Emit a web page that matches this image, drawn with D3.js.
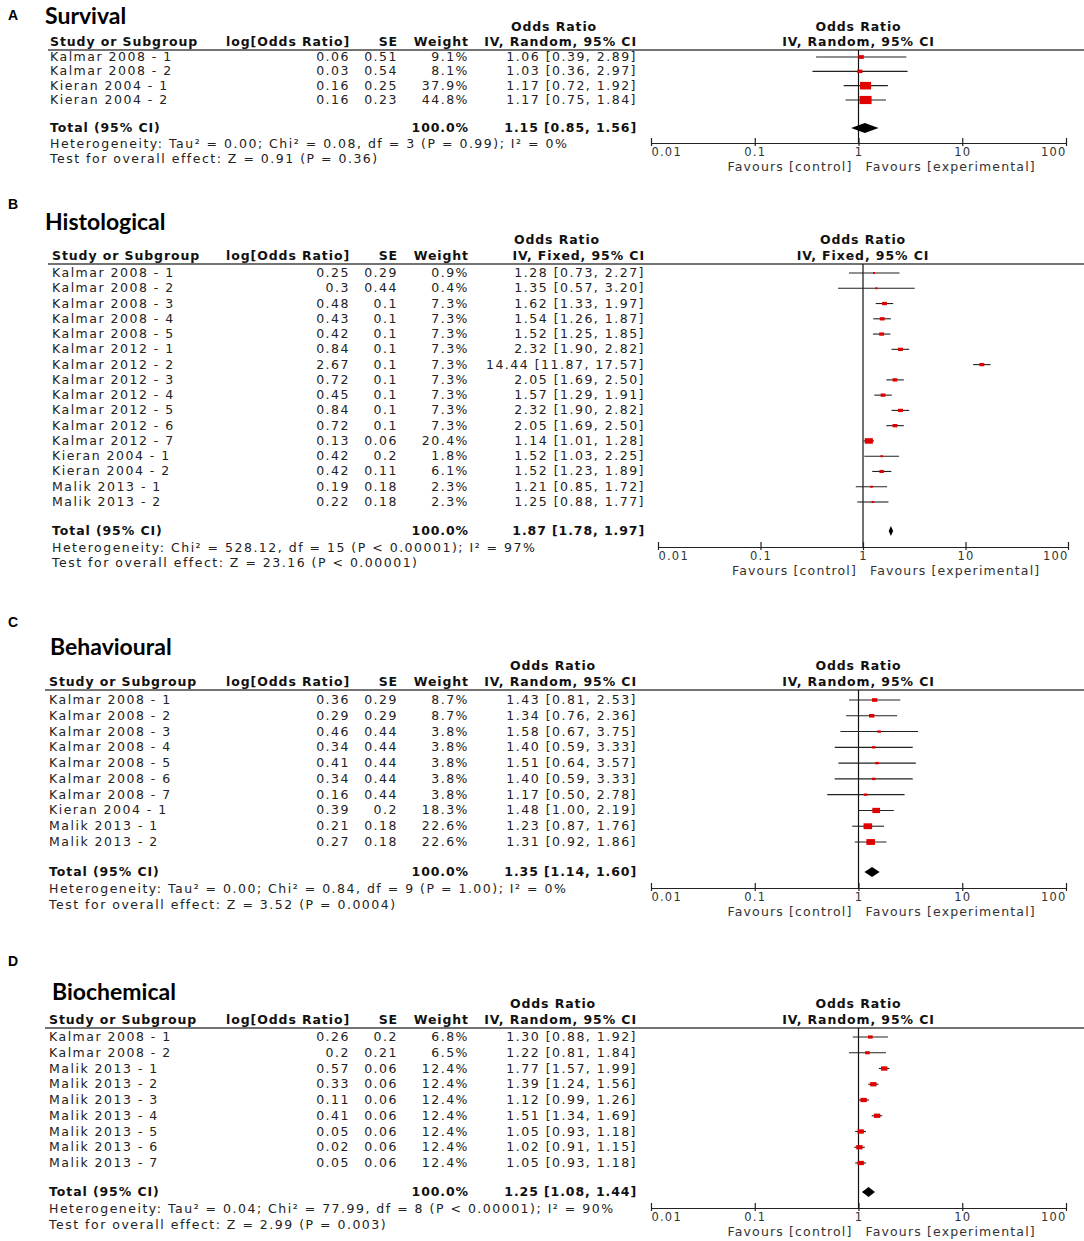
<!DOCTYPE html>
<meta charset="utf-8">
<script src="https://d3js.org/d3.v7.min.js"></script>
<style>
  body { margin: 0; background: #fff; }
  text { font-family: "DejaVu Sans", Verdana, sans-serif; font-size: 12.5px; fill: #222; letter-spacing: 1.5px; }
  .b { font-weight: bold; fill: #111; letter-spacing: 0.9px; }
  .tk { font-size: 11.5px; letter-spacing: 1.2px; fill: #333; }
  .fav { letter-spacing: 1.15px; fill: #333; }
  .title { font-family: Lato, sans-serif; font-weight: bold; font-size: 23px; letter-spacing: 0; fill: #000; }
  .letter { font-family: "Liberation Sans", Arial, sans-serif; font-weight: bold; font-size: 14px; letter-spacing: 0; fill: #000; }
</style>
<div id="chart"></div>
<script>

// ---- data ----
var tickValues = [0.01, 0.1, 1, 10, 100];
var tickLabels = ["0.01", "0.1", "1", "10", "100"];

// A survival
var survStudies = ["Kalmar 2008 - 1", "Kalmar 2008 - 2", "Kieran 2004 - 1", "Kieran 2004 - 2"];
var survLogOR = [0.06, 0.03, 0.16, 0.16];
var survSE = [0.51, 0.54, 0.25, 0.23];
var survWeight = [9.1, 8.1, 37.9, 44.8];
var survOR = [1.06, 1.03, 1.17, 1.17];
var survLo = [0.39, 0.36, 0.72, 0.75];
var survHi = [2.89, 2.97, 1.92, 1.84];
var survTotal = [1.15, 0.85, 1.56];

// B histological
var histStudies = ["Kalmar 2008 - 1", "Kalmar 2008 - 2", "Kalmar 2008 - 3", "Kalmar 2008 - 4", "Kalmar 2008 - 5",
  "Kalmar 2012 - 1", "Kalmar 2012 - 2", "Kalmar 2012 - 3", "Kalmar 2012 - 4", "Kalmar 2012 - 5", "Kalmar 2012 - 6",
  "Kalmar 2012 - 7", "Kieran 2004 - 1", "Kieran 2004 - 2", "Malik 2013 - 1", "Malik 2013 - 2"];
var histLogOR = [0.25, 0.3, 0.48, 0.43, 0.42, 0.84, 2.67, 0.72, 0.45, 0.84, 0.72, 0.13, 0.42, 0.42, 0.19, 0.22];
var histSE = [0.29, 0.44, 0.1, 0.1, 0.1, 0.1, 0.1, 0.1, 0.1, 0.1, 0.1, 0.06, 0.2, 0.11, 0.18, 0.18];
var histWeight = [0.9, 0.4, 7.3, 7.3, 7.3, 7.3, 7.3, 7.3, 7.3, 7.3, 7.3, 20.4, 1.8, 6.1, 2.3, 2.3];
var histOR = [1.28, 1.35, 1.62, 1.54, 1.52, 2.32, 14.44, 2.05, 1.57, 2.32, 2.05, 1.14, 1.52, 1.52, 1.21, 1.25];
var histLo = [0.73, 0.57, 1.33, 1.26, 1.25, 1.90, 11.87, 1.69, 1.29, 1.90, 1.69, 1.01, 1.03, 1.23, 0.85, 0.88];
var histHi = [2.27, 3.20, 1.97, 1.87, 1.85, 2.82, 17.57, 2.50, 1.91, 2.82, 2.50, 1.28, 2.25, 1.89, 1.72, 1.77];
var histTotal = [1.87, 1.78, 1.97];

// C behavioural
var behStudies = ["Kalmar 2008 - 1", "Kalmar 2008 - 2", "Kalmar 2008 - 3", "Kalmar 2008 - 4", "Kalmar 2008 - 5",
  "Kalmar 2008 - 6", "Kalmar 2008 - 7", "Kieran 2004 - 1", "Malik 2013 - 1", "Malik 2013 - 2"];
var behLogOR = [0.36, 0.29, 0.46, 0.34, 0.41, 0.34, 0.16, 0.39, 0.21, 0.27];
var behSE = [0.29, 0.29, 0.44, 0.44, 0.44, 0.44, 0.44, 0.2, 0.18, 0.18];
var behWeight = [8.7, 8.7, 3.8, 3.8, 3.8, 3.8, 3.8, 18.3, 22.6, 22.6];
var behOR = [1.43, 1.34, 1.58, 1.40, 1.51, 1.40, 1.17, 1.48, 1.23, 1.31];
var behLo = [0.81, 0.76, 0.67, 0.59, 0.64, 0.59, 0.50, 1.00, 0.87, 0.92];
var behHi = [2.53, 2.36, 3.75, 3.33, 3.57, 3.33, 2.78, 2.19, 1.76, 1.86];
var behTotal = [1.35, 1.14, 1.60];

// D biochemical
var bioStudies = ["Kalmar 2008 - 1", "Kalmar 2008 - 2", "Malik 2013 - 1", "Malik 2013 - 2", "Malik 2013 - 3",
  "Malik 2013 - 4", "Malik 2013 - 5", "Malik 2013 - 6", "Malik 2013 - 7"];
var bioLogOR = [0.26, 0.2, 0.57, 0.33, 0.11, 0.41, 0.05, 0.02, 0.05];
var bioSE = [0.2, 0.21, 0.06, 0.06, 0.06, 0.06, 0.06, 0.06, 0.06];
var bioWeight = [6.8, 6.5, 12.4, 12.4, 12.4, 12.4, 12.4, 12.4, 12.4];
var bioOR = [1.30, 1.22, 1.77, 1.39, 1.12, 1.51, 1.05, 1.02, 1.05];
var bioLo = [0.88, 0.81, 1.57, 1.24, 0.99, 1.34, 0.93, 0.91, 0.93];
var bioHi = [1.92, 1.84, 1.99, 1.56, 1.26, 1.69, 1.18, 1.15, 1.18];
var bioTotal = [1.25, 1.08, 1.44];

// ---- panels (data + layout) ----
var panels = [
  { letter: "A", title: "Survival", method: "IV, Random, 95% CI",
    studies: survStudies, logOR: survLogOR, se: survSE, weight: survWeight, or: survOR, lo: survLo, hi: survHi, total: survTotal,
    het: "Heterogeneity: Tau\u00b2 = 0.00; Chi\u00b2 = 0.08, df = 3 (P = 0.99); I\u00b2 = 0%",
    test: "Test for overall effect: Z = 0.91 (P = 0.36)",
    letterY: 20, titleX: 45, titleY: 24, h1: 27, h2: 42, lineY: 50, lineX: 48, row0: 57, row1: 100,
    totalY: 128, hetY: 144, testY: 159, axisY: 143, x0: 651, x1: 1066, nameX: 50, ciR: 637, orX: 554 },
  { letter: "B", title: "Histological", method: "IV, Fixed, 95% CI",
    studies: histStudies, logOR: histLogOR, se: histSE, weight: histWeight, or: histOR, lo: histLo, hi: histHi, total: histTotal,
    het: "Heterogeneity: Chi\u00b2 = 528.12, df = 15 (P < 0.00001); I\u00b2 = 97%",
    test: "Test for overall effect: Z = 23.16 (P < 0.00001)",
    letterY: 209, titleX: 45, titleY: 230, h1: 240, h2: 256, lineY: 264, lineX: 48, row0: 273, row1: 502,
    totalY: 531, hetY: 548, testY: 563, axisY: 547, x0: 658, x1: 1068, nameX: 52, ciR: 645, orX: 557 },
  { letter: "C", title: "Behavioural", method: "IV, Random, 95% CI",
    studies: behStudies, logOR: behLogOR, se: behSE, weight: behWeight, or: behOR, lo: behLo, hi: behHi, total: behTotal,
    het: "Heterogeneity: Tau\u00b2 = 0.00; Chi\u00b2 = 0.84, df = 9 (P = 1.00); I\u00b2 = 0%",
    test: "Test for overall effect: Z = 3.52 (P = 0.0004)",
    letterY: 627, titleX: 50, titleY: 655, h1: 666, h2: 682, lineY: 690, lineX: 45, row0: 700, row1: 842,
    totalY: 872, hetY: 889, testY: 905, axisY: 888, x0: 651, x1: 1066, nameX: 49, ciR: 637, orX: 553 },
  { letter: "D", title: "Biochemical", method: "IV, Random, 95% CI",
    studies: bioStudies, logOR: bioLogOR, se: bioSE, weight: bioWeight, or: bioOR, lo: bioLo, hi: bioHi, total: bioTotal,
    het: "Heterogeneity: Tau\u00b2 = 0.04; Chi\u00b2 = 77.99, df = 8 (P < 0.00001); I\u00b2 = 90%",
    test: "Test for overall effect: Z = 2.99 (P = 0.003)",
    letterY: 966, titleX: 52, titleY: 1000, h1: 1004, h2: 1020, lineY: 1028, lineX: 45, row0: 1037, row1: 1163,
    totalY: 1192, hetY: 1209, testY: 1225, axisY: 1208, x0: 651, x1: 1066, nameX: 49, ciR: 637, orX: 553 }
];

var svg = d3.select("#chart").append("svg")
    .attr("width", 1084)
    .attr("height", 1241);

var f2 = d3.format(".2f"), f1 = d3.format(".1f");
var size = d3.scaleSqrt().domain([0, 100]).range([0, 18]);

// column right edges
var colLog = 350, colSE = 398, colW = 469;

function ciText(o, l, h) { return f2(o) + " [" + f2(l) + ", " + f2(h) + "]"; }

function drawPanel(p) {
  var g = svg.append("g");
  var base = 4; // baseline offset from row centre

  g.append("text").attr("class", "letter").attr("x", 8).attr("y", p.letterY).text(p.letter);
  g.append("text").attr("class", "title").attr("x", p.titleX).attr("y", p.titleY).text(p.title);

  // table headers
  g.append("text").attr("class", "b").attr("x", p.nameX).attr("y", p.h2 + base).text("Study or Subgroup");
  g.append("text").attr("class", "b").attr("x", colLog).attr("y", p.h2 + base).attr("text-anchor", "end").text("log[Odds Ratio]");
  g.append("text").attr("class", "b").attr("x", colSE).attr("y", p.h2 + base).attr("text-anchor", "end").text("SE");
  g.append("text").attr("class", "b").attr("x", colW).attr("y", p.h2 + base).attr("text-anchor", "end").text("Weight");
  g.append("text").attr("class", "b").attr("x", p.ciR).attr("y", p.h2 + base).attr("text-anchor", "end").text(p.method);
  g.append("text").attr("class", "b").attr("x", p.orX).attr("y", p.h1 + base).attr("text-anchor", "middle").text("Odds Ratio");

  var x = d3.scaleLog().domain([0.01, 100]).range([p.x0, p.x1]);
  var one = x(1);
  g.append("text").attr("class", "b").attr("x", one).attr("y", p.h1 + base).attr("text-anchor", "middle").text("Odds Ratio");
  g.append("text").attr("class", "b").attr("x", one).attr("y", p.h2 + base).attr("text-anchor", "middle").text(p.method);

  g.append("line")
      .attr("x1", p.lineX).attr("x2", 1084)
      .attr("y1", p.lineY).attr("y2", p.lineY)
      .attr("stroke", "#444").attr("stroke-width", 1.4);

  var idx = d3.range(p.studies.length);
  var y = d3.scalePoint().domain(idx).range([p.row0, p.row1]);

  // table rows
  var rows = g.selectAll(".row").data(idx).enter().append("g").attr("class", "row");
  rows.append("text").attr("x", p.nameX).attr("y", function(i) { return y(i) + base; })
      .text(function(i) { return p.studies[i]; });
  rows.append("text").attr("x", colLog).attr("y", function(i) { return y(i) + base; }).attr("text-anchor", "end")
      .text(function(i) { return String(p.logOR[i]); });
  rows.append("text").attr("x", colSE).attr("y", function(i) { return y(i) + base; }).attr("text-anchor", "end")
      .text(function(i) { return String(p.se[i]); });
  rows.append("text").attr("x", colW).attr("y", function(i) { return y(i) + base; }).attr("text-anchor", "end")
      .text(function(i) { return f1(p.weight[i]) + "%"; });
  rows.append("text").attr("x", p.ciR).attr("y", function(i) { return y(i) + base; }).attr("text-anchor", "end")
      .text(function(i) { return ciText(p.or[i], p.lo[i], p.hi[i]); });

  // totals
  g.append("text").attr("class", "b").attr("x", p.nameX).attr("y", p.totalY + base).text("Total (95% CI)");
  g.append("text").attr("class", "b").attr("x", colW).attr("y", p.totalY + base).attr("text-anchor", "end").text("100.0%");
  g.append("text").attr("class", "b").attr("x", p.ciR).attr("y", p.totalY + base).attr("text-anchor", "end")
      .text(ciText(p.total[0], p.total[1], p.total[2]));
  g.append("text").attr("x", p.nameX).attr("y", p.hetY + base).text(p.het);
  g.append("text").attr("x", p.nameX).attr("y", p.testY + base).text(p.test);

  // line of no effect
  g.append("line")
      .attr("x1", one).attr("x2", one)
      .attr("y1", p.lineY).attr("y2", p.axisY)
      .attr("stroke", "#111").attr("stroke-width", 1.2);

  // CI whiskers
  g.selectAll(".ci").data(idx).enter().append("line")
      .attr("x1", function(i) { return x(p.lo[i]); })
      .attr("x2", function(i) { return x(p.hi[i]); })
      .attr("y1", function(i) { return y(i); })
      .attr("y2", function(i) { return y(i); })
      .attr("stroke", "#222").attr("stroke-width", 1.1);

  // weight squares
  g.selectAll(".sq").data(idx).enter().append("rect")
      .attr("x", function(i) { return x(p.or[i]) - Math.max(2, size(p.weight[i])) / 2; })
      .attr("y", function(i) { return y(i) - Math.max(2, size(p.weight[i]) * 0.68) / 2; })
      .attr("width", function(i) { return Math.max(2, size(p.weight[i])); })
      .attr("height", function(i) { return Math.max(2, size(p.weight[i]) * 0.68); })
      .attr("fill", "#e00000");

  // pooled diamond
  var t = p.total, dh = 5;
  g.append("path")
      .attr("d", "M" + x(t[1]) + "," + p.totalY + "L" + x(t[0]) + "," + (p.totalY - dh) +
                 "L" + x(t[2]) + "," + p.totalY + "L" + x(t[0]) + "," + (p.totalY + dh) + "Z")
      .attr("fill", "#000");

  // axis
  var ax = g.append("g")
      .attr("transform", "translate(0," + p.axisY + ")")
      .call(d3.axisBottom(x).tickValues(tickValues)
        .tickFormat(function(d, i) { return tickLabels[i]; })
        .tickSize(3).tickSizeOuter(0));
  ax.select(".domain").attr("stroke", "#222").attr("stroke-width", 1.2);
  ax.selectAll(".tick line").attr("y1", -5).attr("y2", 3).attr("stroke", "#222").attr("stroke-width", 1.2);
  ax.selectAll(".tick text")
      .attr("class", "tk")
      .attr("y", 13).attr("dy", null)
      .attr("text-anchor", function(d, i) { return i === 0 ? "start" : (i === tickValues.length - 1 ? "end" : "middle"); });

  g.append("text").attr("class", "fav").attr("x", one - 6).attr("y", p.axisY + 27.5).attr("text-anchor", "end").text("Favours [control]");
  g.append("text").attr("class", "fav").attr("x", one + 7).attr("y", p.axisY + 27.5).text("Favours [experimental]");
}

panels.forEach(drawPanel);

</script>
